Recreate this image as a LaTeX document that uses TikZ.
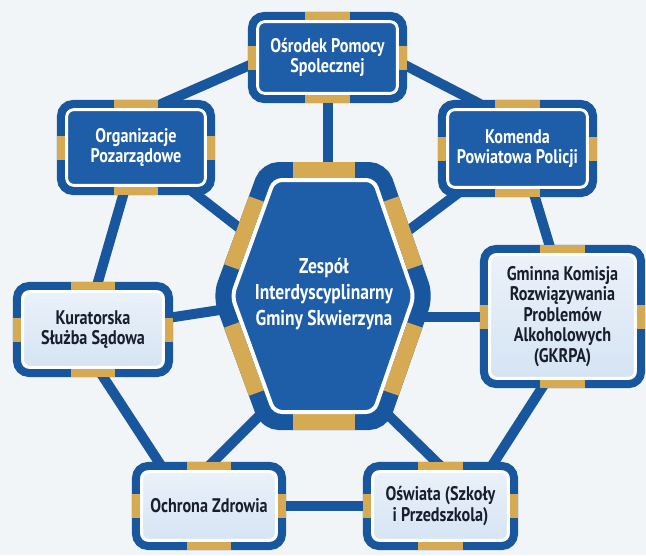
\documentclass[tikz,border=0pt]{standalone}
\usepackage{fontspec}
\setmainfont[FakeStretch=0.82]{PT Sans}
\usepackage{tikz}
\usetikzlibrary{positioning,calc,backgrounds}
\definecolor{ringblue}{RGB}{24,86,158}
\definecolor{boxblue}{RGB}{30,94,168}
\definecolor{boxlight}{RGB}{212,227,243}
\definecolor{goldband}{RGB}{214,170,82}
\definecolor{textdark}{RGB}{25,30,45}
\definecolor{paper}{RGB}{242,245,248}
\tikzstyle{unitbox} = [rectangle, rounded corners=0.3cm, draw=ringblue, line width=0.2cm,
  outer sep=0pt, inner sep=0pt, align=center, font=\fontsize{14}{14.6}\selectfont\bfseries,
  path picture={\draw[white, line width=0.075cm, rounded corners=0.18cm]
    ([shift={(0.14cm,0.14cm)}]path picture bounding box.south west) rectangle
    ([shift={(-0.14cm,-0.14cm)}]path picture bounding box.north east);}]
\tikzstyle{darkbox} = [unitbox, fill=boxblue, text=white]
\tikzstyle{lightbox} = [unitbox, top color=boxlight!45!white, bottom color=boxlight, text=textdark]
\tikzstyle{link} = [draw=ringblue, line width=0.25cm]
\tikzstyle{goldseg} = [draw=goldband, line width=0.2cm]

\begin{document}
\begin{tikzpicture}[x=0.025cm, y=-0.025cm]
\useasboundingbox (0,0) rectangle (646,555);

\coordinate (h1) at (267,170);
\coordinate (h2) at (381,170);
\coordinate (h3) at (425,296);
\coordinate (h4) at (381,422);
\coordinate (h5) at (267,422);
\coordinate (h6) at (221,296);
\coordinate (hsw) at (270,405);
\coordinate (hse) at (378,405);

\filldraw[fill=boxblue, draw=ringblue, line width=0.4cm, rounded corners=0.3cm]
  (h1) -- (h2) -- (h3) -- (h4) -- (h5) -- (h6) -- cycle;
\foreach \a/\b in {h1/h2,h2/h3,h3/h4,h4/h5,h5/h6,h6/h1}
  \draw[goldseg, line width=0.4cm] ($(\a)!0.23!(\b)$) -- ($(\a)!0.77!(\b)$);
\draw[white, line width=0.1cm, rounded corners=0.2cm]
  (274,180) -- (374,180) -- (414,296) -- (374,412) -- (274,412) -- (232,296) -- cycle;

\node[font=\fontsize{15.2}{18.5}\selectfont\bfseries, text=white, align=center] (zis) at (324,294)
  {Zespół\\Interdyscyplinarny\\Gminy Skwierzyna};

\node[darkbox, minimum width=3.775cm, minimum height=2.075cm] (ops) at (327.5,57.5) {Ośrodek Pomocy\\Spolecznej};
\node[darkbox, minimum width=3.75cm, minimum height=2.175cm] (org) at (136,147.5) {Organizacje\\Pozarządowe};
\node[darkbox, minimum width=3.775cm, minimum height=2.225cm] (kom) at (517.5,148.5) {Komenda\\Powiatowa Policji};
\node[lightbox, minimum width=3.8cm, minimum height=2.175cm] (kur) at (93,329.5) {Kuratorska\\Służba Sądowa};
\node[lightbox, minimum width=3.925cm, minimum height=3.375cm] (gkr) at (562.5,316.5)
  {Gminna Komisja\\Rozwiązywania\\Problemów\\Alkoholowych\\(GKRPA)};
\node[lightbox, minimum width=3.65cm, minimum height=2cm] (och) at (209,506) {Ochrona Zdrowia};
\node[lightbox, minimum width=3.675cm, minimum height=2cm] (osw) at (440.5,506) {Oświata (Szkoły\\i Przedszkola)};

\foreach \n in {ops,org,kom,kur,gkr,och,osw}{
  \draw[goldseg] ([xshift=-0.55cm]\n.north) -- ([xshift=0.55cm]\n.north);
  \draw[goldseg] ([xshift=-0.55cm]\n.south) -- ([xshift=0.55cm]\n.south);
  \draw[goldseg] ([yshift=-0.3cm]\n.west) -- ([yshift=0.3cm]\n.west);
  \draw[goldseg] ([yshift=-0.3cm]\n.east) -- ([yshift=0.3cm]\n.east);
}

\begin{scope}[on background layer]
\fill[paper] (0,0) rectangle (646,555);
\draw[link] (org.60) -- (ops.185);
\draw[link] (ops.355) -- (kom.130);
\draw[link] (kom.290) -- (gkr.100);
\draw[link] (gkr.255) -- (osw.38);
\draw[link] (osw) -- (och);
\draw[link] (och.140) -- (kur.280);
\draw[link] (kur.85) -- (org.255);
\draw[link] (ops) -- (ops |- zis);
\draw[link] (org) -- (zis);
\draw[link] (kom) -- (zis);
\draw[link] (kur) -- (zis);
\draw[link] (gkr) -- (gkr -| zis);
\draw[link] (och.north) -- (hsw);
\draw[link] (osw.north) -- (hse);
\end{scope}
\end{tikzpicture}
\end{document}
